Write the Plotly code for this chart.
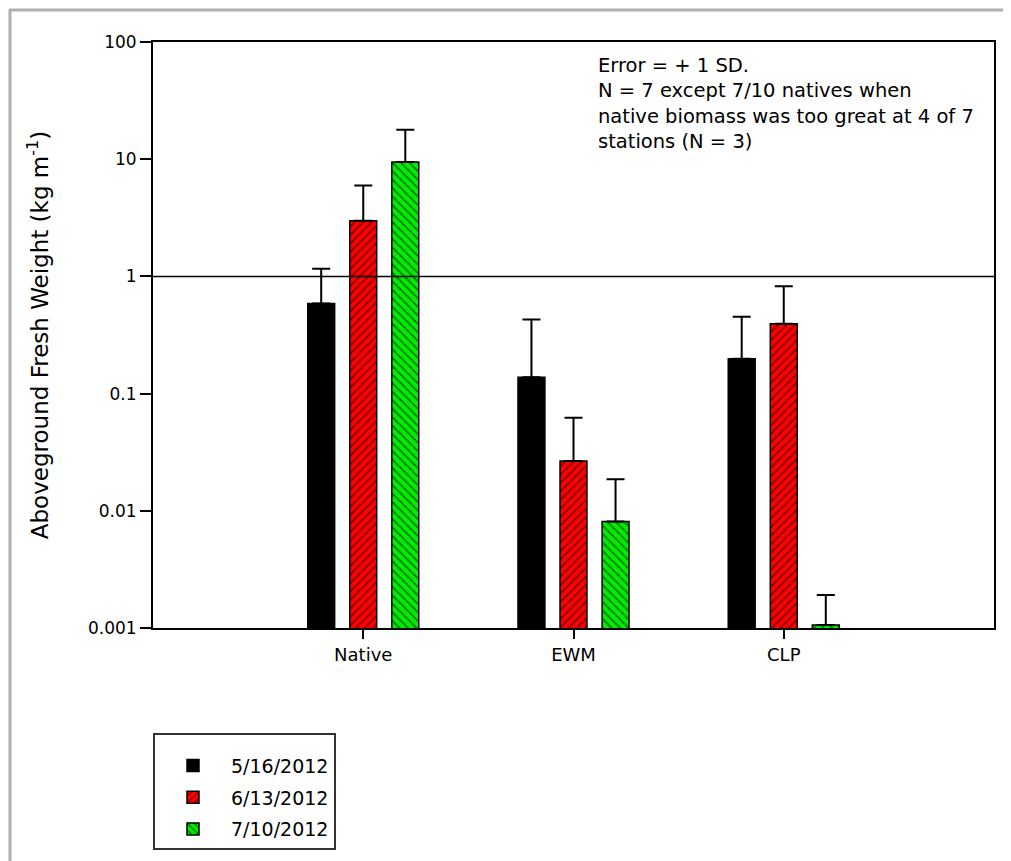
import plotly.graph_objects as go

categories = ["Native", "EWM", "CLP"]
dates = ["5/16/2012", "6/13/2012", "7/10/2012"]

mean_0516 = [0.586, 0.138, 0.198]
mean_0613 = [2.99, 0.0266, 0.394]
mean_0710 = [9.45, 0.0081, 0.00106]

sd_0516 = [0.574, 0.29, 0.254]
sd_0613 = [2.98, 0.0357, 0.43]
sd_0710 = [8.35, 0.0105, 0.00085]

y_tickvals = [0.001, 0.01, 0.1, 1, 10, 100]
y_ticktext = ["0.001", "0.01", "0.1", "1", "10", "100"]

note_lines = [
    "Error = + 1 SD.",
    "N = 7 except 7/10 natives when",
    "native biomass was too great at 4 of 7",
    "stations (N = 3)",
]

# page is drawn with an 8px body margin
OFF = 8
PAGE_W, PAGE_H = 1011, 861
W, H = PAGE_W - OFF, PAGE_H - OFF
# plot area in page pixels: x 153..994, y 42..629
ML, MR, MT, MB = 153 - OFF, PAGE_W - 994, 42 - OFF, PAGE_H - 629
PW, PH = W - ML - MR, H - MT - MB

FONT = "DejaVu Sans, Liberation Sans, sans-serif"

styles = [
    dict(color="#000000", pattern=None),
    dict(color="#ff0000", pattern=dict(shape="/", fgcolor="#000000", bgcolor="#ff0000", size=6, solidity=0.3)),
    dict(color="#00ee00", pattern=dict(shape="\\", fgcolor="#000000", bgcolor="#00ee00", size=6, solidity=0.3)),
]

fig = go.Figure()
for name, means, sds, st in zip(dates, [mean_0516, mean_0613, mean_0710],
                                [sd_0516, sd_0613, sd_0710], styles):
    marker = dict(color=st["color"], line=dict(color="#000000", width=1.5))
    if st["pattern"]:
        marker["pattern"] = st["pattern"]
    fig.add_trace(go.Bar(
        x=categories, y=means, name=name, marker=marker, legendgroup=name,
        error_y=dict(type="data", symmetric=False, array=sds,
                     arrayminus=[0] * len(sds), color="#000000",
                     thickness=2, width=9),
    ))


def px_x(p):
    """page pixel x -> paper coordinate"""
    return (p - OFF - ML) / PW


def px_y(p):
    """page pixel y -> paper coordinate"""
    return (H - MB - (p - OFF)) / PH


shapes = [
    dict(type="line", xref="paper", yref="y", x0=0, x1=1, y0=1, y1=1,
         line=dict(color="#000000", width=1.5)),
    dict(type="line", xref="paper", yref="paper", x0=px_x(9), x1=px_x(PAGE_W + 5),
         y0=px_y(10), y1=px_y(10), line=dict(color="#b0b0b0", width=3)),
    dict(type="line", xref="paper", yref="paper", x0=px_x(10), x1=px_x(10),
         y0=px_y(9), y1=px_y(PAGE_H + 5), line=dict(color="#b0b0b0", width=3)),
]

fig.update_layout(
    width=W, height=H,
    margin=dict(l=ML, r=MR, t=MT, b=MB),
    paper_bgcolor="white", plot_bgcolor="white",
    font=dict(family=FONT, size=18, color="#000000"),
    barmode="group", bargap=0.4, bargroupgap=0.36,
    showlegend=True,
    legend=dict(x=px_x(153), y=px_y(733), xanchor="left", yanchor="top",
                bordercolor="#333333", borderwidth=2, bgcolor="white",
                font=dict(family=FONT, size=19), itemwidth=66,
                tracegroupgap=4, traceorder="grouped",
                title=dict(text=" ", font=dict(family=FONT, size=9))),
    shapes=shapes,
    annotations=[dict(xref="paper", yref="paper", x=px_x(596), y=px_y(52),
                      xanchor="left", yanchor="top", align="left",
                      showarrow=False, text="<br>".join(note_lines),
                      font=dict(family=FONT, size=19.5))],
)

fig.update_xaxes(type="category", range=[-1, 3], showline=True, mirror=True,
                 linecolor="#000000", linewidth=2, ticks="outside",
                 ticklen=9, tickwidth=1.5, tickcolor="#000000",
                 showgrid=False, zeroline=False,
                 tickfont=dict(family=FONT, size=18))
fig.update_yaxes(type="log", range=[-3, 2], showline=True, mirror=True,
                 linecolor="#000000", linewidth=2, ticks="outside",
                 ticklen=11, tickwidth=1.5, tickcolor="#000000",
                 tickvals=y_tickvals, ticktext=y_ticktext,
                 showgrid=False, zeroline=False,
                 tickfont=dict(family=FONT, size=17),
                 title=dict(text="Aboveground Fresh Weight (kg m<sup>-1</sup>)",
                            font=dict(family=FONT, size=23), standoff=33))

fig.write_html("out.html")
